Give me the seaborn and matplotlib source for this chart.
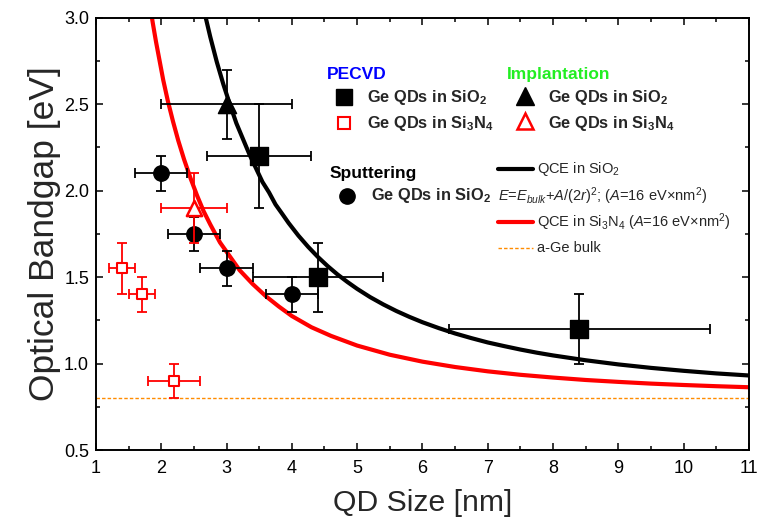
import numpy as np
import pandas as pd
import seaborn as sns
import matplotlib.pyplot as plt
from matplotlib.ticker import MultipleLocator

# data
# PECVD, Ge QDs in SiO2 (filled squares)
pecvd_sio2_x = [3.5, 4.4, 8.4]
pecvd_sio2_y = [2.2, 1.5, 1.2]
pecvd_sio2_xerr = [0.8, 1.0, 2.0]
pecvd_sio2_yerr = [0.3, 0.2, 0.2]

# PECVD, Ge QDs in Si3N4 (open red squares)
pecvd_sin_x = [1.4, 1.7, 2.2]
pecvd_sin_y = [1.55, 1.4, 0.9]
pecvd_sin_xerr = [0.2, 0.2, 0.4]
pecvd_sin_yerr = [0.15, 0.1, 0.1]

# Implantation
impl_sio2_x = [3.0]
impl_sio2_y = [2.5]
impl_sio2_xerr = [1.0]
impl_sio2_yerr = [0.2]

impl_sin_x = [2.5]
impl_sin_y = [1.9]
impl_sin_xerr = [0.5]
impl_sin_yerr = [0.2]

# Sputtering, Ge QDs in SiO2 (filled circles)
sput_x = [2.0, 2.5, 3.0, 4.0]
sput_y = [2.1, 1.75, 1.55, 1.4]
sput_xerr = [0.4, 0.4, 0.4, 0.4]
sput_yerr = [0.1, 0.1, 0.1, 0.1]

# QCE curves
qce_sio2_x = [2.65, 2.75, 2.85, 2.95, 3.05, 3.15, 3.25, 3.35, 3.45, 3.55, 3.65, 3.75, 3.85,
              3.95, 4.1, 4.25, 4.4, 4.55, 4.7, 4.85, 5.0, 5.2, 5.4, 5.6, 5.8, 6.0, 6.25,
              6.5, 6.75, 7.0, 7.25, 7.5, 7.75, 8.0, 8.5, 9.0, 9.5, 10.0, 10.5, 11.0]
qce_sio2_y = [3.05, 2.89, 2.745, 2.616, 2.50, 2.39, 2.30, 2.21, 2.13, 2.05, 1.99, 1.92, 1.867,
              1.813, 1.74, 1.675, 1.616, 1.563, 1.515, 1.472, 1.432, 1.384, 1.342, 1.304, 1.270,
              1.239, 1.205, 1.174, 1.147, 1.122, 1.101, 1.081, 1.063, 1.047, 1.019, 0.995, 0.975,
              0.958, 0.943, 0.931]

qce_sin_x = [1.82, 1.87, 1.92, 1.97, 2.03, 2.1, 2.18, 2.26, 2.35, 2.45, 2.55, 2.65, 2.75,
             2.9, 3.05, 3.2, 3.4, 3.6, 3.8, 4.0, 4.3, 4.6, 5.0, 5.5, 6.0, 6.5, 7.0, 7.5,
             8.0, 8.5, 9.0, 9.5, 10.0, 10.5, 11.0]
qce_sin_y = [3.09, 2.97, 2.86, 2.76, 2.64, 2.52, 2.40, 2.29, 2.18, 2.07, 1.97, 1.88, 1.805,
             1.70, 1.62, 1.54, 1.46, 1.39, 1.33, 1.275, 1.21, 1.16, 1.104, 1.051, 1.011,
             0.98, 0.955, 0.935, 0.919, 0.905, 0.894, 0.884, 0.876, 0.869, 0.863]

e_bulk = 0.8

sns.set_style("ticks")
plt.rcParams["font.family"] = ["Liberation Sans", "DejaVu Sans"]
plt.rcParams["mathtext.fontset"] = "custom"
plt.rcParams["mathtext.rm"] = "Liberation Sans"
plt.rcParams["mathtext.it"] = "Liberation Sans:italic"
plt.rcParams["mathtext.bf"] = "Liberation Sans:bold"

fig = plt.figure(figsize=(7.58, 5.24), dpi=100)
ax = fig.add_axes([0.1266, 0.1412, 0.8614, 0.8250])

# curves
sns.lineplot(x=qce_sio2_x, y=qce_sio2_y, ax=ax, color="black", lw=3, zorder=2)
sns.lineplot(x=qce_sin_x, y=qce_sin_y, ax=ax, color="#ff0000", lw=3, zorder=2)
ax.axhline(e_bulk, color="#ff8c00", lw=1, ls=(0, (2.5, 1.5)), zorder=1)

eb = dict(fmt="none", elinewidth=1.3, capsize=3.5, capthick=1.3)

# black points first, red implantation bars drawn on top
ax.errorbar(pecvd_sio2_x, pecvd_sio2_y, xerr=pecvd_sio2_xerr, yerr=pecvd_sio2_yerr, ecolor="black", zorder=3, **eb)
ax.errorbar(impl_sio2_x, impl_sio2_y, xerr=impl_sio2_xerr, yerr=impl_sio2_yerr, ecolor="black", zorder=3, **eb)
ax.errorbar(sput_x, sput_y, xerr=sput_xerr, yerr=sput_yerr, ecolor="black", zorder=3, **eb)
ax.errorbar(pecvd_sin_x, pecvd_sin_y, xerr=pecvd_sin_xerr, yerr=pecvd_sin_yerr, ecolor="#ff0000", zorder=3, **eb)

sns.scatterplot(x=pecvd_sio2_x, y=pecvd_sio2_y, ax=ax, marker="s", s=150, color="black", edgecolor="black", zorder=4)
sns.scatterplot(x=impl_sio2_x, y=impl_sio2_y, ax=ax, marker="^", s=170, color="black", edgecolor="black", zorder=4)
sns.scatterplot(x=sput_x, y=sput_y, ax=ax, marker="o", s=125, color="black", edgecolor="black", zorder=4)
sns.scatterplot(x=pecvd_sin_x, y=pecvd_sin_y, ax=ax, marker="s", s=60, color="white", edgecolor="#ff0000", linewidth=1.5, zorder=5)

ax.errorbar(impl_sin_x, impl_sin_y, xerr=impl_sin_xerr, yerr=impl_sin_yerr, ecolor="#ff0000", zorder=5, **eb)
sns.scatterplot(x=impl_sin_x, y=impl_sin_y, ax=ax, marker="^", s=120, color="white", edgecolor="#ff0000", linewidth=1.8, zorder=6)

# hand-made legend
ax.text(4.54, 2.67, "PECVD", color="#0000ff", fontsize=12.5, fontweight="bold", va="center")
ax.text(7.29, 2.67, "Implantation", color="#22ee22", fontsize=12.5, fontweight="bold", va="center")
ax.text(4.57, 2.10, "Sputtering", color="black", fontsize=12.5, fontweight="bold", va="center")

ax.plot([4.80], [2.54], marker="s", ms=12, color="black", ls="none")
ax.plot([4.80], [2.39], marker="s", ms=8, mfc="white", mec="#ff0000", mew=1.5, ls="none")
ax.plot([7.57], [2.55], marker="^", ms=13, color="black", ls="none")
ax.plot([7.57], [2.40], marker="^", ms=11, mfc="white", mec="#ff0000", mew=1.8, ls="none")
ax.plot([4.84], [1.97], marker="o", ms=11, color="black", ls="none")

sio2 = r"Ge QDs in SiO$_\mathbf{2}$"
sin = r"Ge QDs in Si$_\mathbf{3}$N$_\mathbf{4}$"
ax.text(5.15, 2.54, sio2, fontsize=11.8, fontweight="bold", va="center")
ax.text(5.15, 2.39, sin, fontsize=11.8, fontweight="bold", va="center")
ax.text(7.92, 2.54, sio2, fontsize=11.8, fontweight="bold", va="center")
ax.text(7.92, 2.39, sin, fontsize=11.8, fontweight="bold", va="center")
ax.text(5.21, 1.97, sio2, fontsize=11.8, fontweight="bold", va="center")

ax.plot([7.16, 7.69], [2.125, 2.125], color="black", lw=3)
ax.plot([7.16, 7.69], [1.82, 1.82], color="#ff0000", lw=3)
ax.plot([7.16, 7.69], [1.67, 1.67], color="#ff8c00", lw=1, ls=(0, (2.5, 1.5)))
ax.text(7.75, 2.125, r"QCE in SiO$_2$", fontsize=10.5, va="center")
ax.text(7.16, 1.97, r"$E$=$E_{bulk}$+$A$/(2$r$)$^2$; ($A$=16 eV×nm$^2$)", fontsize=10.5, va="center")
ax.text(7.75, 1.82, r"QCE in Si$_3$N$_4$ ($A$=16 eV×nm$^2$)", fontsize=10.5, va="center")
ax.text(7.75, 1.67, "a-Ge bulk", fontsize=10.5, va="center")

ax.set_xlim(1, 11)
ax.set_ylim(0.5, 3.0)
ax.xaxis.set_major_locator(MultipleLocator(1))
ax.xaxis.set_minor_locator(MultipleLocator(0.5))
ax.yaxis.set_major_locator(MultipleLocator(0.5))
ax.yaxis.set_minor_locator(MultipleLocator(0.25))
ax.tick_params(which="both", direction="in", top=True, right=True, width=1.1, colors="black")
ax.tick_params(which="major", length=5, labelsize=13, pad=7)
ax.tick_params(which="minor", length=2.7)
ax.tick_params(axis="y", which="major", pad=5)
for sp in ax.spines.values():
    sp.set_linewidth(1.4)
    sp.set_color("black")

ax.set_xlabel("QD Size [nm]", fontsize=21.7, labelpad=9)
ax.set_ylabel("Optical Bandgap [eV]", fontsize=25.5, labelpad=2)

fig.savefig("out.png", dpi=100)
